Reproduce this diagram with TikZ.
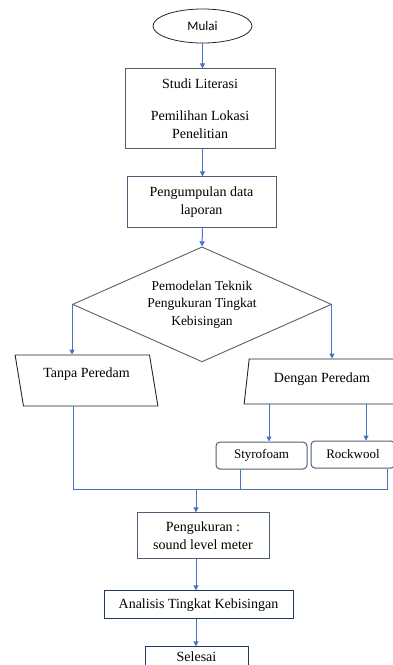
\documentclass[tikz,border=0pt]{standalone}
\usepackage{fontspec}
\setmainfont{Liberation Serif}
\newfontfamily\calibri{Carlito}
\usetikzlibrary{arrows.meta, positioning, shapes.geometric, calc}
\definecolor{cslate}{RGB}{80, 94, 115}
\definecolor{cnavy}{RGB}{31, 56, 100}
\definecolor{cgray}{RGB}{95, 95, 95}
\definecolor{cdark}{RGB}{38, 38, 38}
\definecolor{carrow}{RGB}{68, 114, 196}
\tikzset{
  box/.style={draw=cslate, line width=1pt, align=center, inner sep=0pt,
              font=\fontsize{14}{18}\selectfont},
  term/.style={ellipse, draw=cdark, line width=0.8pt, inner sep=0pt,
               minimum width=99pt, minimum height=34pt, font=\calibri\fontsize{13}{15}\selectfont},
  dec/.style={diamond, draw=cgray, line width=0.9pt, inner sep=0pt, aspect=2.25,
              minimum width=259pt, minimum height=115pt, align=center,
              font=\fontsize{13.5}{17.5}\selectfont},
  io/.style={trapezium, trapezium stretches, draw=cdark, line width=0.9pt, inner sep=0pt,
             text height=10pt, font=\fontsize{14}{16}\selectfont},
  mat/.style={draw=cslate, line width=1pt, rounded corners=4pt, inner sep=0pt,
              minimum height=27pt, font=\fontsize{13}{15}\selectfont},
  arr/.style={-{Triangle[length=5pt, width=5pt]}, line width=1pt, draw=carrow},
  jn/.style={line width=1pt, draw=carrow},
}

\begin{document}
\begin{tikzpicture}
\useasboundingbox (0,0) rectangle (393pt,-665pt);

% ---------- alur utama ----------
\node[term] (mulai) at (202.5pt,-26pt) {Mulai};

\node[box, minimum width=150pt, minimum height=80pt, below=25pt of mulai, xshift=-2.5pt] (studi)
  {Studi Literasi\\[14pt] Pemilihan Lokasi\\ Penelitian};

\node[box, minimum width=149pt, minimum height=51pt, below=27pt of studi, xshift=1.5pt] (laporan)
  {Pengumpulan data\\ laporan};

\node[dec, below=18pt of laporan, xshift=0.5pt] (model)
  {Pemodelan Teknik\\ Pengukuran Tingkat\\ Kebisingan};

% ---------- cabang peredam ----------
\node[io, trapezium left angle=102, trapezium right angle=78, minimum width=143pt,
      minimum height=51pt, text depth=17pt] (tanpa) at (86.5pt,-380.5pt) {Tanpa Peredam};

\node[io, trapezium left angle=80, trapezium right angle=100, minimum width=156pt,
      minimum height=45pt, text depth=9pt] (dengan) at (322pt,-381.5pt) {Dengan Peredam};

\node[mat, minimum width=91pt] (styro) at (261.5pt,-455.5pt) {Styrofoam};
\node[mat, minimum width=84pt] (rock) at (353pt,-454.5pt) {Rockwool};

% ---------- pengukuran dan analisis ----------
\node[box, minimum width=132pt, minimum height=46pt, below=150pt of model, xshift=1pt] (ukur)
  {Pengukuran :\\ sound level meter};

\node[box, draw=cnavy, minimum width=189pt, minimum height=28pt, below=31pt of ukur, xshift=-4.5pt] (analisis)
  {Analisis Tingkat Kebisingan};

\node[box, draw=cnavy, minimum width=103pt, minimum height=28pt, text height=10pt, text depth=8pt,
      below=27pt of analisis, xshift=-2pt] (selesai)
  {Selesai};

\coordinate (join) at ($(ukur.north)+(-7pt,23pt)$);

\draw[arr] (mulai.south) -- (mulai.south |- studi.north);
\draw[arr] (studi.south -| mulai) -- (mulai |- laporan.north);
\draw[arr] (laporan.south -| mulai) -- (model.north);
\draw[arr] (model.west) -- (model.west |- tanpa.north);
\draw[arr] (model.east) -- (model.east |- dengan.north);
\draw[arr] ([xshift=7.5pt]styro.north |- dengan.south) -- ([xshift=7.5pt]styro.north);
\draw[arr] ([xshift=13pt]rock.north |- dengan.south) -- ([xshift=13pt]rock.north);

\draw[jn] ([xshift=-13pt]tanpa.south) |- (join) -| ([xshift=34pt]rock.south);
\draw[jn] ([xshift=-21.5pt]styro.south) -- ([xshift=-21.5pt]styro.south |- join);

\draw[arr] (join) -- (join |- ukur.north);
\draw[arr] (ukur.south -| join) -- (join |- analisis.north);
\draw[arr] (analisis.south -| join) -- (join |- selesai.north);

\end{tikzpicture}
\end{document}
